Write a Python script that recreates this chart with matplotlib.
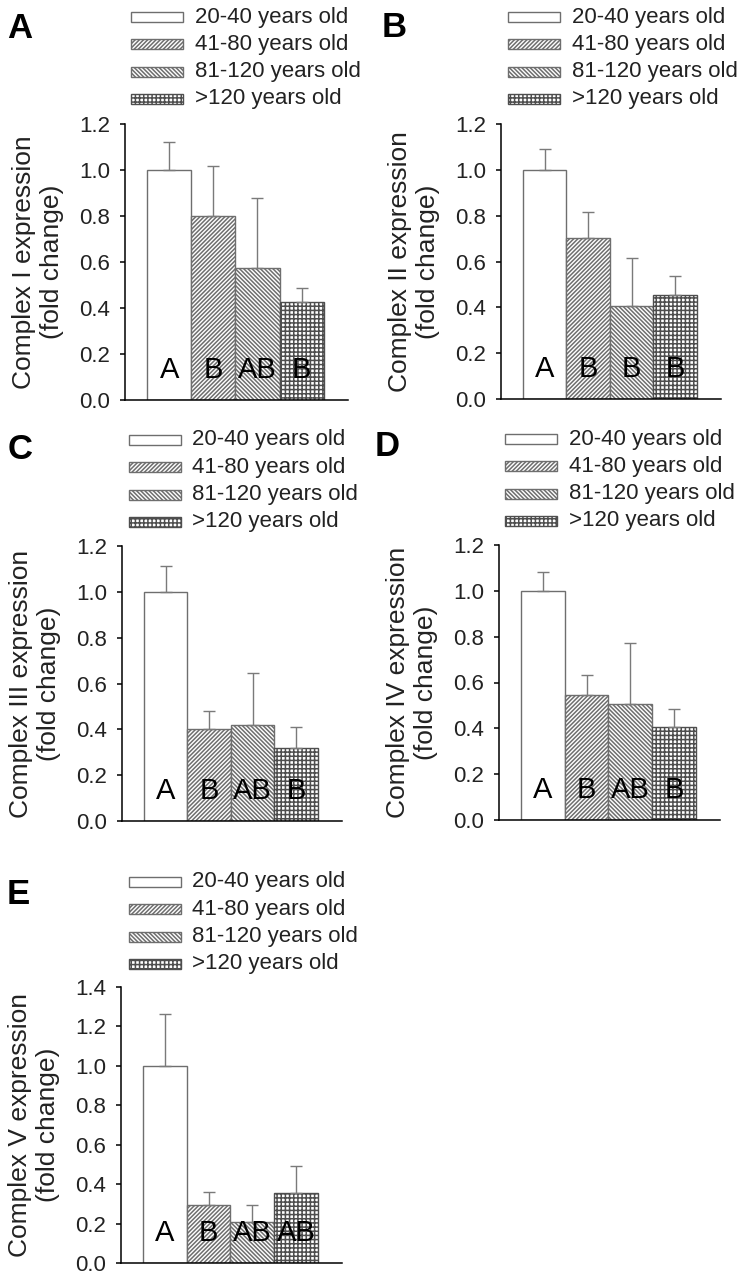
import numpy as np
import matplotlib
matplotlib.use("Agg")
import matplotlib.pyplot as plt
from matplotlib.patches import Rectangle

plt.rcParams['font.family'] = ['Liberation Sans', 'DejaVu Sans']
plt.rcParams['hatch.linewidth'] = 1.1

# ---------------- data ----------------
groups = ['20-40 years old', '41-80 years old', '81-120 years old', '>120 years old']

complex_I_mean = [1.00, 0.80, 0.575, 0.425]
complex_I_sem = [0.123, 0.217, 0.302, 0.062]
complex_I_letters = ['A', 'B', 'AB', 'B']

complex_II_mean = [1.00, 0.704, 0.404, 0.452]
complex_II_sem = [0.091, 0.113, 0.211, 0.085]
complex_II_letters = ['A', 'B', 'B', 'B']

complex_III_mean = [1.00, 0.40, 0.419, 0.32]
complex_III_sem = [0.114, 0.08, 0.225, 0.089]
complex_III_letters = ['A', 'B', 'AB', 'B']

complex_IV_mean = [1.00, 0.544, 0.506, 0.407]
complex_IV_sem = [0.081, 0.089, 0.265, 0.076]
complex_IV_letters = ['A', 'B', 'AB', 'B']

complex_V_mean = [1.00, 0.296, 0.208, 0.355]
complex_V_sem = [0.265, 0.064, 0.084, 0.135]
complex_V_letters = ['A', 'B', 'AB', 'AB']

ylabels = ['Complex I expression\n(fold change)',
           'Complex II expression\n(fold change)',
           'Complex III expression\n(fold change)',
           'Complex IV expression\n(fold change)',
           'Complex V expression\n(fold change)']
panel_letters = ['A', 'B', 'C', 'D', 'E']

# ---------------- layout / style ----------------
W, H = 743, 1280
fig = plt.figure(figsize=(W / 100, H / 100), dpi=100)


def fx(x):
    return x / W


def fy(y):
    return 1 - y / H


hatches = ['', '////////', '\\\\\\\\\\\\\\\\', '++++']
edges = ['#6e6e6e', '#6e6e6e', '#6e6e6e', '#4e4e4e']
err_col = '#7a7a7a'

panels = [
    dict(rect=(125, 124, 348, 400), ymax=1.2, lx=131, ly=17, tx=195, px=7, py=38,
         mean=complex_I_mean, sem=complex_I_sem, let=complex_I_letters),
    dict(rect=(501, 124, 721, 399), ymax=1.2, lx=508, ly=17, tx=572, px=382, py=37,
         mean=complex_II_mean, sem=complex_II_sem, let=complex_II_letters),
    dict(rect=(122, 546, 342, 821), ymax=1.2, lx=129, ly=440, tx=192, px=8, py=459,
         mean=complex_III_mean, sem=complex_III_sem, let=complex_III_letters),
    dict(rect=(499, 545, 720, 820), ymax=1.2, lx=505, ly=439, tx=569, px=375, py=456,
         mean=complex_IV_mean, sem=complex_IV_sem, let=complex_IV_letters),
    dict(rect=(121, 987, 342, 1263), ymax=1.4, lx=129, ly=882, tx=192, px=7, py=904,
         mean=complex_V_mean, sem=complex_V_sem, let=complex_V_letters),
]

for i, p in enumerate(panels):
    l, t, r, b = p['rect']
    ax = fig.add_axes([fx(l), fy(b), (r - l) / W, (b - t) / H])
    x = np.arange(len(groups))
    bars = ax.bar(x, p['mean'], width=1.0, color='white', edgecolor=edges,
                  linewidth=1.0, zorder=2)
    for bar, h in zip(bars, hatches):
        bar.set_hatch(h)
    ax.errorbar(x, p['mean'], yerr=[np.zeros(len(x)), p['sem']], fmt='none',
                ecolor=err_col, elinewidth=1.0, capsize=4.5, capthick=1.0, zorder=3)
    for xi, lab in zip(x, p['let']):
        ax.annotate(lab, (xi, 0), xytext=(0, 16), textcoords='offset points',
                    ha='center', va='baseline', fontsize=21, color='black', zorder=4)
    ax.set_xlim(-1.0, 4.05)
    ax.set_ylim(0, p['ymax'])
    ticks = np.arange(0, p['ymax'] + 0.001, 0.2)
    ax.set_yticks(ticks)
    ax.set_yticklabels([f'{v:.1f}' for v in ticks])
    ax.set_xticks([])
    for s in ['top', 'right']:
        ax.spines[s].set_visible(False)
    for s in ['left', 'bottom']:
        ax.spines[s].set_linewidth(1.1)
    ax.tick_params(axis='y', direction='out', length=3.6, width=1.1, pad=7,
                   labelsize=16, labelcolor='#222222')
    fig.text(fx(l - 87), fy((t + b) / 2), ylabels[i], rotation=90, ha='center',
             va='center', fontsize=19, multialignment='center', linespacing=1.2,
             color='#222222')
    fig.text(fx(p['px']), fy(p['py']), panel_letters[i], fontsize=25,
             fontweight='bold', ha='left', va='baseline')
    for k, (g, h, ec) in enumerate(zip(groups, hatches, edges)):
        yc = p['ly'] + k * 27.3
        rect = Rectangle((fx(p['lx']), fy(yc + 5)), 52 / W, 10 / H,
                         transform=fig.transFigure, facecolor='white',
                         edgecolor=ec, linewidth=1.0, hatch=h)
        fig.patches.append(rect)
        fig.text(fx(p['tx']), fy(yc), g, fontsize=16, ha='left', va='center',
                 color='#222222')

fig.savefig('out.png', dpi=100)
